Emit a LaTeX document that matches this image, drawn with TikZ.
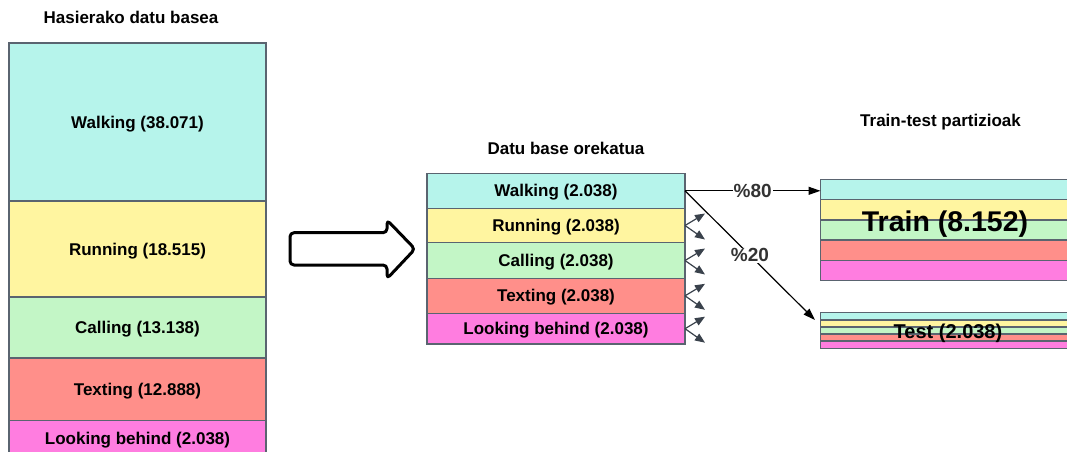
\documentclass[tikz,border=0pt]{standalone}
\usepackage{fontspec}
\setmainfont{Liberation Sans}
\usetikzlibrary{arrows.meta,calc}

\definecolor{cwalk}{RGB}{182,244,235}
\definecolor{crun}{RGB}{255,245,160}
\definecolor{ccall}{RGB}{195,246,198}
\definecolor{ctext}{RGB}{255,143,138}
\definecolor{clook}{RGB}{255,125,224}
\definecolor{edgecol}{RGB}{90,100,112}
\definecolor{tipcol}{RGB}{58,66,76}
\definecolor{labcol}{RGB}{51,51,51}

\tikzset{
  % text box as tall as the capitals, so the caps sit centred in the node
  lbl/.style={font=\fontsize{17}{20}\selectfont\bfseries,
    text height=12.2pt, text depth=0pt},
  band/.style={draw=edgecol, line width=1.4pt, inner sep=0pt, outer sep=0pt,
    lbl, text=black},
  col/.style={band, minimum width=257pt},
  mid/.style={band, minimum width=258pt},
  part/.style={band, minimum width=249pt, text height=0pt, text depth=0pt},
  title/.style={lbl, text=black},
  biglbl/.style={font=\fontsize{28.5}{32}\selectfont\bfseries,
    text height=20.4pt, text depth=0pt},
  tstlbl/.style={font=\fontsize{20}{23}\selectfont\bfseries,
    text height=14.3pt, text depth=0pt},
  fork/.style={draw=tipcol, line width=1.2pt,
    -{Triangle[length=10pt,width=8pt]}},
  split/.style={draw=black, line width=1.2pt,
    -{Triangle[length=12pt,width=8pt]}},
  pct/.style={fill=white, inner sep=1pt, text=labcol,
    font=\fontsize{19}{22}\selectfont\bfseries},
  bigarrow/.style={draw=black, line width=3pt, fill=white,
    rounded corners=4pt, line join=round}
}

\begin{document}
\begin{tikzpicture}[x=1pt, y=-1pt]
\path[use as bounding box, clip] (0,0) rectangle (1067,451);

% initial data set
\node[title] (t0) at (131,17.5) {Hasierako datu basea};
\node[col, fill=cwalk, minimum height=158pt]  (a1) at (137.5,122)    {Walking (38.071)};
\node[col, fill=crun,  minimum height=96pt]   (a2) at (137.5,249)    {Running (18.515)};
\node[col, fill=ccall, minimum height=61pt]   (a3) at (137.5,327.5)  {Calling (13.138)};
\node[col, fill=ctext, minimum height=62.5pt] (a4) at (137.5,389.25) {Texting (12.888)};
\node[col, fill=clook, minimum height=35pt]   (a5) at (137.5,438)    {Looking behind (2.038)};

% transformation arrow
\draw[bigarrow] (290,232.7) -- (387,232.7) -- (387,220) -- (415,249)
  -- (387,278.7) -- (387,265) -- (290,265) -- cycle;

% balanced data set
\node[title] (t1) at (566,148) {Datu base orekatua};
\node[mid, fill=cwalk, minimum height=35pt]   (b1) at (556,190.8) {Walking (2.038)};
\node[mid, fill=crun,  minimum height=34.4pt] (b2) at (556,225.5) {Running (2.038)};
\node[mid, fill=ccall, minimum height=35.6pt] (b3) at (556,260.5) {Calling (2.038)};
\node[mid, fill=ctext, minimum height=35pt]   (b4) at (556,295.8) {Texting (2.038)};
\node[mid, fill=clook, minimum height=30.7pt] (b5) at (556,328.7) {Looking behind (2.038)};

% fan-out arrows beside the balanced rows
\foreach \r in {b2,b3,b4,b5}{
  \draw[fork] (\r.east) -- ++(20,-12);
  \draw[fork] (\r.east) -- ++(20,14);
}

% train partition
\node[title] (t2) at (940.5,120) {Train-test partizioak};
\foreach \i/\c in {1/cwalk,2/crun,3/ccall,4/ctext,5/clook}{
  \node[part, fill=\c, minimum height=20.28pt] (tr\i)
    at (945,{179.3+20.28*(\i-0.5)}) {};
}
\node[biglbl] (trl) at (945,220.8) {Train (8.152)};

% test partition
\foreach \i/\c in {1/cwalk,2/crun,3/ccall,4/ctext,5/clook}{
  \node[part, fill=\c, minimum height=7.12pt] (ts\i)
    at (945,{312.7+7.12*(\i-0.5)}) {};
}
\node[tstlbl] (tsl) at (948,331) {Test (2.038)};

% split arrows
\coordinate (tin) at (815,320);
\draw[split] (b1.east) -- node[pct] {\%80} (tr1.west |- b1.east);
\draw[split] (b1.east) -- node[pct] {\%20} (tin);
\end{tikzpicture}
\end{document}
